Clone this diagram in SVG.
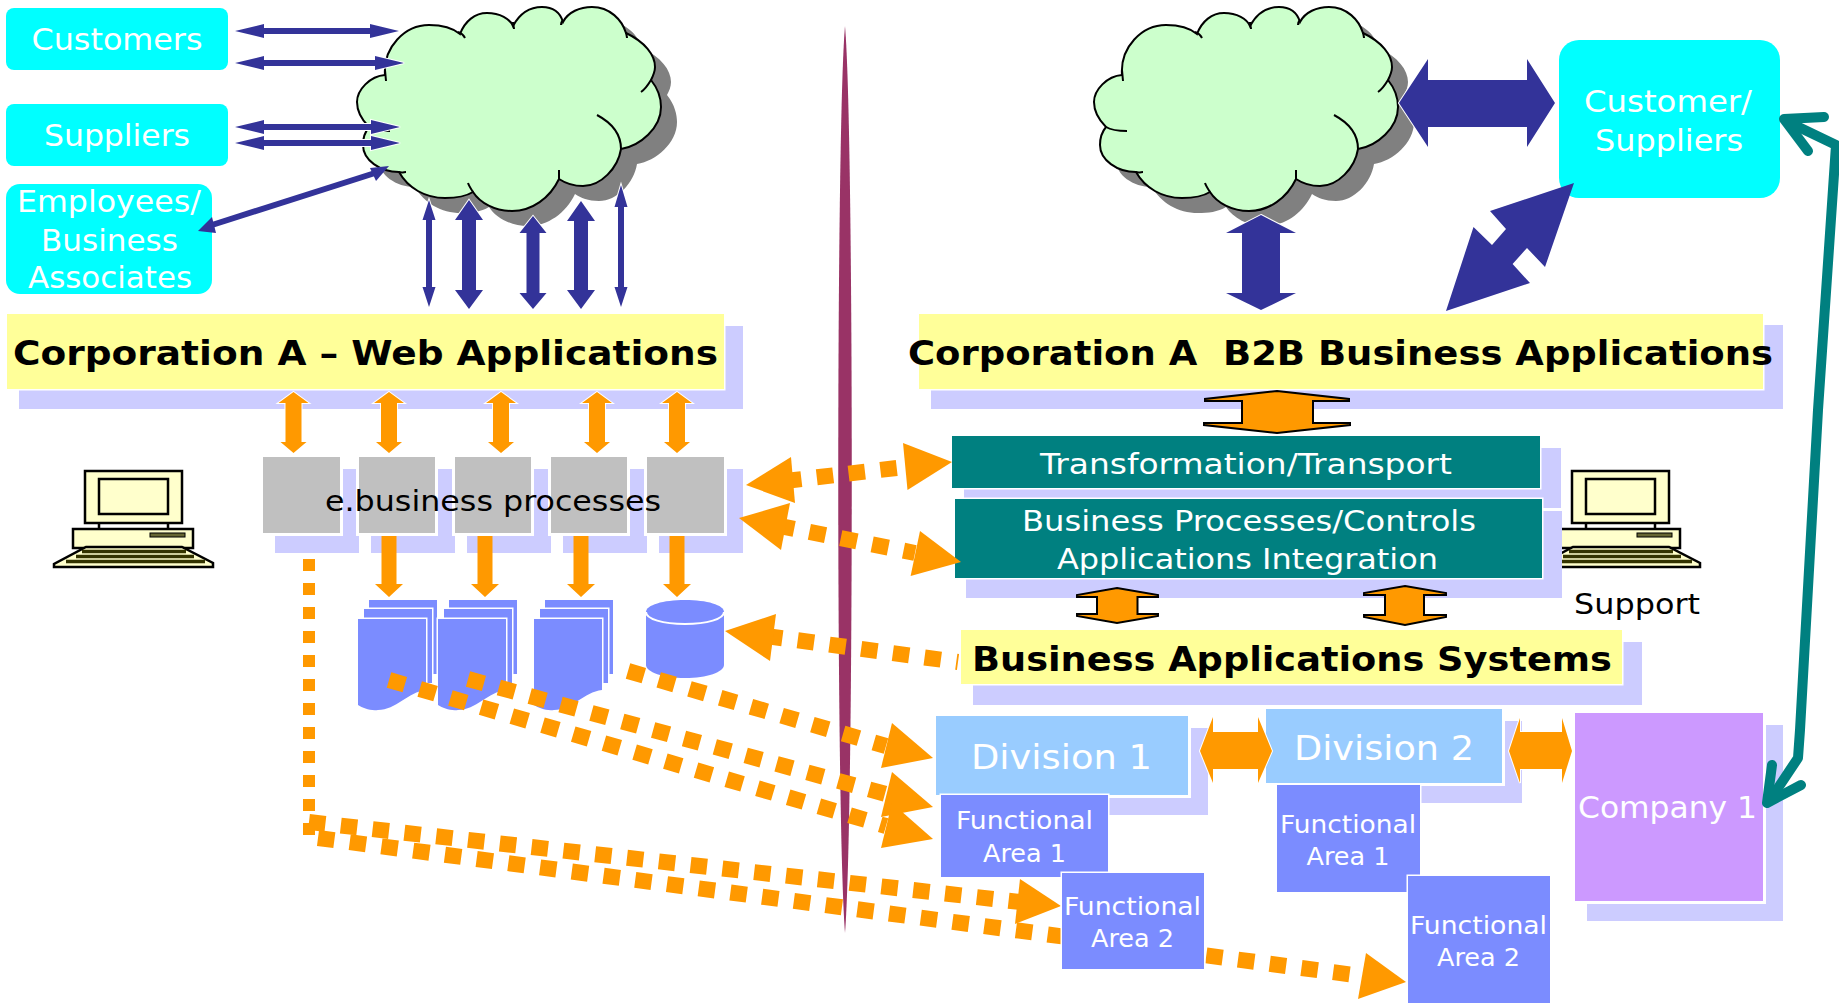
<svg xmlns="http://www.w3.org/2000/svg" width="1839" height="1004" viewBox="0 0 1839 1004">
<style>
text{font-family:"DejaVu Sans","Liberation Sans",sans-serif;text-anchor:middle;white-space:pre}
.w{fill:#fff}
.k{fill:#000}
.b{font-weight:bold;fill:#000;font-size:34px}
.s{fill:#CCCCFF}
.y{fill:#FFFF99;stroke:#fff;stroke-width:3;paint-order:stroke}
.c{fill:#00FFFF}
.t{fill:#008080;stroke:#fff;stroke-width:3;paint-order:stroke}
.g{fill:#C0C0C0;stroke:#fff;stroke-width:6;paint-order:stroke}
.d{fill:#99CCFF;stroke:#fff;stroke-width:6;paint-order:stroke}
.f{fill:#7B8CFF;stroke:#fff;stroke-width:3;paint-order:stroke}
.nb{fill:#333399;stroke:#fff;stroke-width:2;paint-order:stroke}
.or{fill:#FF9900;stroke:#fff;stroke-width:2;paint-order:stroke}
.ok{fill:#FF9900;stroke:#000;stroke-width:2}
.oh{fill:#FF9900}
.dash{fill:none;stroke:#FF9900;stroke-width:16;stroke-dasharray:16.5 15.5}
.dashv{fill:none;stroke:#FF9900;stroke-width:12;stroke-dasharray:12 12}
.cl{fill:none;stroke:#000;stroke-width:2}
.teal{fill:none;stroke:#008080;stroke-width:10;stroke-linejoin:round}
.pc{stroke:#000;stroke-width:2.5;fill:#FFFFCC}
</style>
<defs>
<path id="cloudShape" d="M385,75 C383,47 405,25 429,25 C443,25 454,29 460,34 C465,21 475,13 487,13 C500,13 510,19 513,26 C520,13 530,7 542,7 C552,7 560,12 563,22 C568,12 580,7 592,7 C610,7 622,20 626,33 C645,42 655,55 655,67 C655,72 653,76 651,80 C659,90 661,100 661,107 C661,128 640,146 621,149 C618,168 601,186 583,186 C572,186 565,183 559,179 C550,198 532,211 512,211 C495,211 480,203 473,192 C465,197 455,198 445,198 C425,198 408,188 399,172 C380,172 363,160 363,145 C363,138 364,133 369,127 C362,120 357,112 357,102 C357,90 370,76 385,75 Z"/>
<g id="cloud">
<use href="#cloudShape" x="16" y="15" fill="#808080"/>
<use href="#cloudShape" fill="#CCFFCC" stroke="#000" stroke-width="2"/>
<path class="cl" d="M385,70 L386,81 M458,32 C461,33 464,36 465,38 M513,22 C513,25 514,27 514,29 M563,20 C561,22 561,24 561,25 M626,32 C626,34 627,36 627,38 M651,80 C648,85 644,90 641,92 M621,149 C621,135 612,123 597,115 M559,179 L559,170 M473,192 C471,189 469,186 468,183 M399,172 C402,173 404,172 406,172 M369,127 C374,130 382,131 390,131"/>
</g>
<path id="oa" class="or" d="M0,392 L15,403 H8 V442 H13 L0,453 L-13,442 H-8 V403 H-15 Z"/>
<path id="da" class="oh" d="M-7.5,536 H7.5 V584 H14 L0,597 L-14,584 H-7.5 Z"/>
<g id="doc">
<rect class="f" x="11" y="600" width="68" height="74" stroke-width="2"/>
<rect class="f" x="6" y="609" width="68" height="74" stroke-width="2"/>
<path class="f" stroke-width="2" d="M0,619 H68 V690 C50,692 38,710 20,710 C12,711 5,708 0,705 Z"/>
</g>
<g id="pc">
<rect class="pc" x="85" y="471" width="97" height="52"/>
<rect class="pc" x="99" y="479" width="69" height="35"/>
<path class="pc" d="M99,523 V530 M168,523 V530" stroke-width="2"/>
<rect class="pc" x="73" y="529" width="120" height="19" stroke-width="1.5"/>
<rect x="150" y="533" width="35" height="4" fill="#666633" stroke="#000"/>
<path class="pc" d="M86,547 H182 L213,563 V567 H54 V564 Z"/>
<path d="M82,551.5 H186 M76,556.5 H194 M66,561.5 H205" stroke="#333300" stroke-width="3.5" fill="none"/>
</g>
</defs>

<g id="node-customers"><rect class="c" x="6" y="8" width="222" height="62" rx="8"/><text class="w" font-size="30" x="117" y="50" textLength="171" lengthAdjust="spacingAndGlyphs">Customers</text></g>
<g id="node-suppliers"><rect class="c" x="6" y="104" width="222" height="62" rx="8"/><text class="w" font-size="30" x="117" y="146" textLength="146" lengthAdjust="spacingAndGlyphs">Suppliers</text></g>
<g id="node-employees"><rect class="c" x="6" y="184" width="206" height="110" rx="14"/>
<text class="w" font-size="30" x="109" y="212" textLength="184" lengthAdjust="spacingAndGlyphs">Employees/</text>
<text class="w" font-size="30" x="109.5" y="251" textLength="137" lengthAdjust="spacingAndGlyphs">Business</text>
<text class="w" font-size="30" x="110" y="288" textLength="164" lengthAdjust="spacingAndGlyphs">Associates</text></g>
<g id="node-cloud-1"><use href="#cloud"/></g>
<g id="node-cloud-2"><use href="#cloud" x="737"/></g>

<g id="node-web-apps"><rect class="s" x="19" y="326" width="724" height="83"/><rect class="y" x="7" y="314" width="717" height="75"/>
<text class="b" x="365.5" y="365" textLength="705" lengthAdjust="spacingAndGlyphs">Corporation A – Web Applications</text></g>

<g id="node-pc-left"><use href="#pc"/></g>
<g id="node-pc-right"><use href="#pc" x="1487"/><text class="k" font-size="29" x="1637" y="614" textLength="126" lengthAdjust="spacingAndGlyphs">Support</text></g>

<g id="node-processes">
<rect class="s" x="275" y="469" width="84" height="84"/><rect class="g" x="263" y="457" width="77" height="76"/>
<rect class="s" x="371" y="469" width="84" height="84"/><rect class="g" x="359" y="457" width="76" height="76"/>
<rect class="s" x="467" y="469" width="84" height="84"/><rect class="g" x="455" y="457" width="76" height="76"/>
<rect class="s" x="563" y="469" width="84" height="84"/><rect class="g" x="551" y="457" width="76" height="76"/>
<rect class="s" x="659" y="469" width="84" height="84"/><rect class="g" x="647" y="457" width="77" height="76"/>
<text class="k" font-size="28" x="493" y="511" textLength="336" lengthAdjust="spacingAndGlyphs">e.business processes</text></g>

<g id="node-docs"><use href="#doc" x="358"/><use href="#doc" x="438"/><use href="#doc" x="534"/></g>
<g id="node-database"><path fill="#7B8CFF" d="M646,612 C646,605 663,600 685,600 C707,600 724,605 724,612 V665 C724,672 707,678 685,678 C663,678 646,672 646,665 Z"/><path fill="none" stroke="#fff" stroke-width="2" d="M646,612 C646,619 663,624 685,624 C707,624 724,619 724,612"/></g>

<g id="node-b2b"><rect class="s" x="931" y="325" width="852" height="84"/><rect class="y" x="919" y="314" width="844" height="75"/>
<text class="b" x="1340.5" y="365" textLength="865" lengthAdjust="spacingAndGlyphs">Corporation A  B2B Business Applications</text></g>
<g id="node-customer-suppliers"><rect class="c" x="1559" y="40" width="221" height="158" rx="20"/>
<text class="w" font-size="30" x="1668" y="112" textLength="168" lengthAdjust="spacingAndGlyphs">Customer/</text>
<text class="w" font-size="30" x="1669" y="151" textLength="148" lengthAdjust="spacingAndGlyphs">Suppliers</text></g>
<g id="node-transformation"><rect class="s" x="964" y="448" width="597" height="60"/><rect class="t" x="952" y="436" width="588" height="52"/>
<text class="w" font-size="29" x="1246" y="474" textLength="412" lengthAdjust="spacingAndGlyphs">Transformation/Transport</text></g>
<g id="node-bp"><rect class="s" x="966" y="511" width="596" height="87"/><rect class="t" x="955" y="499" width="587" height="79"/>
<text class="w" font-size="29" x="1249" y="531" textLength="454" lengthAdjust="spacingAndGlyphs">Business Processes/Controls</text>
<text class="w" font-size="29" x="1247.5" y="569" textLength="381" lengthAdjust="spacingAndGlyphs">Applications Integration</text></g>
<g id="node-division-1"><rect class="s" x="948" y="728" width="260" height="87"/><rect class="d" x="936" y="716" width="252" height="79"/>
<text class="w" font-size="34" x="1061.5" y="769" textLength="181" lengthAdjust="spacingAndGlyphs">Division 1</text></g>
<g id="node-division-2"><rect class="s" x="1278" y="721" width="244" height="82"/><rect class="d" x="1266" y="709" width="236" height="74"/>
<text class="w" font-size="34" x="1384" y="760" textLength="180" lengthAdjust="spacingAndGlyphs">Division 2</text></g>
<g id="node-company"><rect class="s" x="1587" y="725" width="196" height="196"/><rect fill="#CC99FF" stroke="#fff" stroke-width="6" paint-order="stroke" x="1575" y="713" width="188" height="188"/>
<text class="w" font-size="30" x="1667.5" y="818" textLength="179" lengthAdjust="spacingAndGlyphs">Company 1</text></g>

<g id="divider"><path fill="#993366" d="M845,26 C836,130 836,820 845,933 C854,820 854,130 845,26 Z"/></g>

<g id="connectors">
<path class="nb" d="M235,31 L264,24 V28 H370 V24 L399,31 L370,38 V34 H264 V38 Z"/>
<path class="nb" d="M235,63 L264,56 V60 H375 V56 L404,63 L375,70 V66 H264 V70 Z"/>
<path class="nb" d="M235,127 L264,120 V124 H371 V120 L400,127 L371,134 V130 H264 V134 Z"/>
<path class="nb" d="M235,143 L264,136 V140 H371 V136 L400,143 L371,150 V146 H264 V150 Z"/>
<path fill="none" stroke="#333399" stroke-width="6" d="M212,225 L375,173"/>
<polygon fill="#333399" points="198,231 212,217 216,233"/>
<polygon fill="#333399" points="389,166 370,168 376,181"/>
<path class="nb" d="M429,200 L435.5,220 H432 V287 H435.5 L429,307 L422.5,287 H426 V220 H422.5 Z"/>
<path class="nb" d="M469,200 L483,220 H476 V290 H483 L469,309 L455,290 H462 V220 H455 Z"/>
<path class="nb" d="M533,216 L546.5,233 H539.5 V293 H546.5 L533,309 L519.5,293 H526.5 V233 H519.5 Z"/>
<path class="nb" d="M581,201 L595,221 H588 V290 H595 L581,309 L567,290 H574 V221 H567 Z"/>
<path class="nb" d="M621,185 L627.5,207 H624 V287 H627.5 L621,307 L614.5,287 H618 V207 H614.5 Z"/>
<path class="nb" d="M1399,103 L1428,59 V80 H1527 V59 L1555,103 L1527,147 V127 H1428 V147 Z"/>
<path class="nb" d="M1261,215 L1296,233 H1280 V293 H1296 L1261,310 L1226,293 H1242 V233 H1226 Z"/>
<polygon fill="#333399" points="1574,183 1490,211 1506,229 1492,245 1473.5,227 1446,311 1530,283 1512.6,264 1527,248 1545,267"/>

<use href="#oa" x="293.5"/><use href="#oa" x="389"/><use href="#oa" x="501"/><use href="#oa" x="597"/><use href="#oa" x="677"/>
<use href="#da" x="389"/><use href="#da" x="485"/><use href="#da" x="581"/><use href="#da" x="677"/>

<path class="ok" d="M1277,391 L1349,399 L1349,401 H1313 V423 H1350 V425 L1277,433 L1204,425 V423 H1242 V401 H1205 V399 Z"/>
<path class="ok" d="M1117,588 L1158,595 V597 H1137.5 V614 H1158 V616 L1117,623 L1077,616 V614 H1097 V597 H1077 V595 Z"/>
<path class="ok" d="M1405,586 L1446,593 V595 H1424 V615 H1446 V617 L1405,625 L1364,617 V615 H1385 V595 H1364 V593 Z"/>
<path class="or" d="M1200,751 L1213,717 V732 H1258 V717 L1272,751 L1258,783 V769 H1213 V783 Z"/>
<path class="or" d="M1509,751 L1520,718 V732 H1562 V718 L1572,751 L1562,783 V769 H1520 V783 Z"/>

<path class="dashv" d="M309,559 V835"/>
<path class="dash" d="M309,822 L1020,902"/>
<polygon class="oh" points="1061,906 1020,879 1015,924"/>
<path class="dash" d="M318,838 L1362,976"/>
<polygon class="oh" points="1406,982 1366,953 1358,999"/>
<path class="dash" d="M628,671 L886,746"/>
<polygon class="oh" points="933,758 892,723 881,768"/>
<path class="dash" d="M468,679 L886,794"/>
<polygon class="oh" points="933,807 892,772 881,817"/>
<path class="dash" d="M389,680 L886,826"/>
<polygon class="oh" points="933,839 892,803 881,848"/>
<path class="dash" d="M785,481 L905,467"/>
<polygon class="oh" points="746,485 791,457 795,503"/>
<polygon class="oh" points="952,462 903,443 907.5,490"/>
<path class="dash" d="M778,525.6 L915,553"/>
<polygon class="oh" points="739,518 790,503 781,550"/>
<polygon class="oh" points="961,562 920,531 910.6,576"/>
<path class="dash" d="M766,636 L958,662"/>
<polygon class="oh" points="725,631 776,614 770,661"/>

<path class="teal" d="M1786,121 L1836,145 L1818,410 L1800,730 L1798,758 L1770,800"/>
<path class="teal" stroke-linecap="round" d="M1784,119 L1824,117 M1784,119 L1808,151"/>
<path class="teal" stroke-linecap="round" d="M1767,803 L1772,765 M1767,803 L1801,785"/>
</g>

<g id="node-bas"><rect class="s" x="973" y="642" width="669" height="63"/><rect class="y" x="961" y="630" width="661" height="54"/>
<text class="b" x="1292" y="671" textLength="640" lengthAdjust="spacingAndGlyphs">Business Applications Systems</text></g>
<g id="node-d1-fa1"><rect class="f" x="941" y="795" width="167" height="82"/>
<text class="w" font-size="24" x="1024.5" y="829" textLength="137" lengthAdjust="spacingAndGlyphs">Functional</text><text class="w" font-size="24" x="1024.5" y="862" textLength="83" lengthAdjust="spacingAndGlyphs">Area 1</text></g>
<g id="node-d1-fa2"><rect class="f" x="1062" y="873" width="142" height="96"/>
<text class="w" font-size="24" x="1132.5" y="915" textLength="137" lengthAdjust="spacingAndGlyphs">Functional</text><text class="w" font-size="24" x="1132.5" y="947" textLength="83" lengthAdjust="spacingAndGlyphs">Area 2</text></g>
<g id="node-d2-fa1"><rect class="f" x="1277" y="785" width="143" height="107"/>
<text class="w" font-size="24" x="1348" y="833" textLength="136" lengthAdjust="spacingAndGlyphs">Functional</text><text class="w" font-size="24" x="1348" y="865" textLength="83" lengthAdjust="spacingAndGlyphs">Area 1</text></g>
<g id="node-d2-fa2"><rect class="f" x="1408" y="876" width="142" height="127"/>
<text class="w" font-size="24" x="1478.5" y="934" textLength="137" lengthAdjust="spacingAndGlyphs">Functional</text><text class="w" font-size="24" x="1478.5" y="966" textLength="83" lengthAdjust="spacingAndGlyphs">Area 2</text></g>
</svg>
